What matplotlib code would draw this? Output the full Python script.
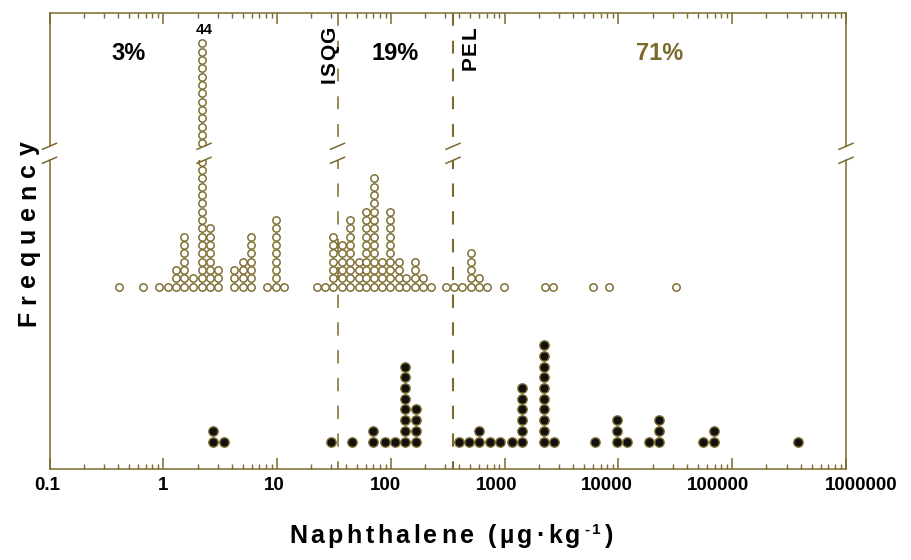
import numpy as np
import matplotlib
matplotlib.use("Agg")
import matplotlib.pyplot as plt
from matplotlib.lines import Line2D
from matplotlib.font_manager import FontProperties
from matplotlib.transforms import IdentityTransform, blended_transform_factory, offset_copy
from matplotlib.ticker import FixedLocator, LogLocator, NullFormatter

plt.rcParams['font.family'] = ['Liberation Sans', 'DejaVu Sans']
plt.rcParams['lines.scale_dashes'] = False

# ---- data: concentration of each dot column (µg/kg) and number of dots in it ----
open_conc = [0.41, 0.67, 0.92, 1.09, 1.29, 1.53, 1.81, 2.19, 2.58, 3.01, 4.22, 4.99,
             5.92, 8.18, 9.82, 11.6, 22.3, 26.5, 31.3, 37.1, 43.9, 52.0, 60.8, 70.5,
             84.0, 98.8, 117, 136, 162, 191, 226, 307, 360, 425, 503, 594, 705, 980,
             2250, 2660, 5980, 8270, 31800]
open_count = [1, 1, 1, 1, 3, 7, 2, 44, 8, 3, 3, 4,
              7, 1, 9, 1, 1, 1, 7, 6, 9, 4, 10, 14,
              4, 10, 4, 2, 4, 2, 1, 1, 1, 1, 5, 2, 1, 1,
              1, 1, 1, 1, 1]

filled_conc = [2.72, 3.40, 29.9, 46.0, 70.0, 88.1, 108, 132, 167, 396, 485, 594,
               738, 916, 1150, 1430, 2200, 2700, 6190, 9810, 12000, 18600, 22800,
               54900, 68600, 380000]
filled_count = [2, 1, 1, 1, 2, 1, 1, 8, 4, 1, 1, 2,
                1, 1, 1, 6, 10, 1, 1, 3, 1, 1, 3,
                1, 2, 1]

isqg = 34.6
pel = 352
pct_text = ['3%', '19%', '71%']
pct_x = [0.50, 108, 23100]
xtick_vals = [0.1, 1, 10, 100, 1000, 10000, 100000, 1000000]
xtick_text = ['0.1', '1', '10', '100', '1000', '10000', '100000', '1000000']
xtick_shift_px = [-2, 0, -3, -5, -8, -12, -14, 15]

OLIVE = '#7b6a2c'
W, H = 911, 560
fig = plt.figure(figsize=(W / 100, H / 100), dpi=100)


def px_axes(left, top, right, bottom):
    return fig.add_axes([left / W, 1 - bottom / H, (right - left) / W, (bottom - top) / H])


L, R = 49.5, 846
ax_top = px_axes(L, 13, R, 146)
ax_bot = px_axes(L, 160, R, 469)

# vertical layout of the stacks (in pixel-like units of the lower panel)
OPEN_BASE, OPEN_STEP = 182.3, 8.33
FILL_BASE, FILL_STEP = 27.5, 10.67
ax_bot.set_ylim(0, 309)
ax_top.set_ylim(437.8, 570.8)


def stack(conc, count, base, step):
    xs, ys = [], []
    for c, n in zip(conc, count):
        for k in range(n):
            xs.append(c)
            ys.append(base + k * step)
    return np.array(xs), np.array(ys)


ox, oy = stack(open_conc, open_count, OPEN_BASE, OPEN_STEP)
fx, fy = stack(filled_conc, filled_count, FILL_BASE, FILL_STEP)

for ax in (ax_top, ax_bot):
    ax.set_xscale('log')
    ax.set_xlim(0.1, 1e6)
    ax.plot(ox, oy, 'o', ms=5.3, mfc='white', mec=OLIVE, mew=1.05, zorder=3)
    ax.plot(fx, fy, 'o', ms=6.7, mfc='#111111', mec=OLIVE, mew=1.0, zorder=3)
    ax.xaxis.set_major_locator(FixedLocator(xtick_vals))
    ax.xaxis.set_minor_locator(LogLocator(base=10, subs=range(2, 10), numticks=20))
    ax.xaxis.set_minor_formatter(NullFormatter())
    ax.set_yticks([])
    for sp in ax.spines.values():
        sp.set_color(OLIVE)
        sp.set_linewidth(1.1)
    ax.tick_params(axis='x', which='major', direction='in', length=8, width=1.1, color=OLIVE)
    ax.tick_params(axis='x', which='minor', direction='in', length=3.8, width=1.0, color=OLIVE)
    ax.tick_params(axis='x', which='both', labelbottom=False, labeltop=False)
    # guideline lines, dashes laid out from the outer edge of each panel
    blend = blended_transform_factory(ax.transData, ax.transAxes)
    for xv, lw in ((isqg, 1.1), (pel, 1.5)):
        if ax is ax_top:
            ax.plot([xv, xv], [1, 0], transform=blend, color=OLIVE, lw=lw,
                    ls=(0, (9.2, 10.8)), zorder=2)
        else:
            ax.plot([xv, xv], [0, 1], transform=blend, color=OLIVE, lw=lw,
                    ls=(4.0, (9.6, 10.4)), zorder=2)

ax_top.spines['bottom'].set_visible(False)
ax_bot.spines['top'].set_visible(False)
ax_top.tick_params(axis='x', which='both', top=True, bottom=False)
ax_bot.tick_params(axis='x', which='both', top=False, bottom=True)

# decade labels under the lower panel
xb = blended_transform_factory(ax_bot.transData, ax_bot.transAxes)
for xv, t, dx in zip(xtick_vals, xtick_text, xtick_shift_px):
    tr = offset_copy(xb, fig=fig, x=dx, y=-20.5, units='dots')
    ax_bot.text(xv, 0, t, transform=tr, ha='center', va='baseline', fontsize=13.5,
                fontweight='bold', color='black', clip_on=False)

# count of the tallest column
imax = int(np.argmax(open_count))
ax_top.annotate(str(open_count[imax]), xy=(open_conc[imax], OPEN_BASE + (open_count[imax] - 1) * OPEN_STEP),
                xytext=(1.5, 6.5), textcoords='offset points', ha='center', va='baseline',
                fontsize=11, fontweight='bold', color='black')

# percentage labels
pct_colors = ['black', 'black', OLIVE]
tb = blended_transform_factory(ax_top.transData, ax_top.transAxes)
for xv, t, c in zip(pct_x, pct_text, pct_colors):
    ax_top.text(xv, (146 - 60) / 133, t, transform=tb, ha='center', va='baseline',
                fontsize=17, fontweight='bold', color=c)

# break marks across the gap
ID = IdentityTransform()
for xbk in (L, 204, 337.5, 453, R):
    for yb in (146.3, 160.3):
        fig.add_artist(Line2D([xbk - 7, xbk + 7], [H - yb - 3, H - yb + 3], transform=ID,
                              color=OLIVE, lw=1.1))

renderer = fig.canvas.get_renderer()


def fprop(size):
    return FontProperties(family=['Liberation Sans', 'DejaVu Sans'], weight='bold', size=size)


def advance(ch, fp):
    w = lambda s: renderer.get_text_width_height_descent(s, fp, ismath=False)[0]
    return w('H' + ch + 'H') - w('HH')


def tracked(segments, center, base, extent, rotation=0, color='black'):
    """Draw letter-spaced text spread over `extent` pixels.
    segments: list of (string, size, rise_px)."""
    items = []
    for s, size, rise in segments:
        fp = fprop(size)
        for ch in s:
            items.append((ch, fp, rise, advance(ch, fp)))
    glyphs = sum(a for *_, a in items) - items[-1][3] * 0.1
    track = (extent - glyphs) / (len(items) - 1)
    pos = center - extent / 2
    for ch, fp, rise, a in items:
        if rotation == 0:
            x, y = pos, base + rise
        else:
            x, y = base - rise, pos
        fig.text(x, y, ch, transform=ID, ha='left', va='baseline', rotation=rotation,
                 rotation_mode='anchor', fontproperties=fp, color=color)
        pos += a + track


# axis titles and guideline names
tracked([('Naphthalene (µg·kg', 18, 0), ('-1', 11, 9), (')', 18, 0)],
        center=450.5, base=H - 543, extent=323)
tracked([('Frequency', 18, 0)], center=H - 234.5, base=35, extent=183, rotation=90)
tracked([('ISQG', 15, 0)], center=H - 55.5, base=335, extent=55, rotation=90)
tracked([('PEL', 15, 0)], center=H - 49, base=476, extent=42, rotation=90)

fig.savefig('out.png', dpi=100)
